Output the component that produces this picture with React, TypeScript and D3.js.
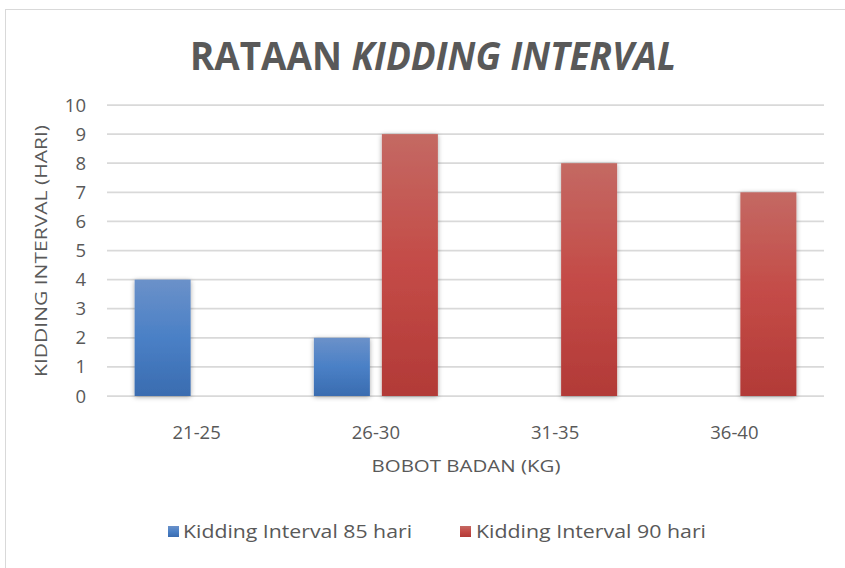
import React from "react";
import * as d3 from "d3";

const categories = ["21-25", "26-30", "31-35", "36-40"];
const series85 = [4, 2, 0, 0];
const series90 = [0, 9, 8, 7];
const seriesNames = ["Kidding Interval 85 hari", "Kidding Interval 90 hari"];
const yTicks = [0, 1, 2, 3, 4, 5, 6, 7, 8, 9, 10];

const W = 845;
const H = 568;
const FONT = "'Open Sans', 'Noto Sans', sans-serif";
const TXT = "#595959";

export default function App() {
  const x0 = d3.scaleBand<string>().domain(categories).range([107, 824]).paddingInner(0).paddingOuter(0);
  const y = d3.scaleLinear().domain([0, 10]).range([396, 105]);
  const barW = 56;
  const gap = 12;
  const series = [
    { name: seriesNames[0], values: series85, grad: "gBlue" },
    { name: seriesNames[1], values: series90, grad: "gRed" },
  ];
  return (
    <svg width={W} height={H} style={{ position: "absolute", left: 0, top: 0 }} fontFamily={FONT}>
      <defs>
        <linearGradient id="gBlue" x1="0" y1="0" x2="0" y2="1">
          <stop offset="0" stopColor="#6b91c9" />
          <stop offset="0.5" stopColor="#4a80c6" />
          <stop offset="1" stopColor="#3a6cb0" />
        </linearGradient>
        <linearGradient id="gRed" x1="0" y1="0" x2="0" y2="1">
          <stop offset="0" stopColor="#c46963" />
          <stop offset="0.5" stopColor="#c44b47" />
          <stop offset="1" stopColor="#b23a37" />
        </linearGradient>
        <filter id="shadow" x="-30%" y="-10%" width="160%" height="120%">
          <feDropShadow dx="0" dy="1" stdDeviation="2.5" floodColor="#000" floodOpacity="0.35" />
        </filter>
      </defs>
      <rect x={0} y={0} width={W} height={H} fill="#fff" />
      <rect x={5.5} y={9.5} width={W + 10} height={H + 10} fill="#fff" stroke="#d9d9d9" strokeWidth={1} />
      <text x={433} y={70} textAnchor="middle" fontSize={39} fontWeight="bold" fill={TXT} textLength={486} lengthAdjust="spacingAndGlyphs">
        <tspan>RATAAN </tspan>
        <tspan fontStyle="italic">KIDDING INTERVAL</tspan>
      </text>
      {yTicks.map((t) => (
        <g key={t}>
          <line x1={107} x2={824} y1={y(t)} y2={y(t)} stroke="#d9d9d9" strokeWidth={1.75} />
          <text x={86} y={y(t) + 6.5} textAnchor="end" fontSize={18.5} fill={TXT}>
            {t}
          </text>
        </g>
      ))}
      {series.map((s, si) =>
        s.values.map((v, i) => {
          const c = categories[i];
          const cx = x0(c)! + x0.bandwidth() / 2;
          const bx = si === 0 ? cx - gap / 2 - barW : cx + gap / 2;
          if (v === 0) return null;
          return (
            <rect key={s.name + c} x={bx} y={y(v)} width={barW} height={y(0) - y(v)} fill={`url(#${s.grad})`} filter="url(#shadow)" />
          );
        })
      )}
      {categories.map((c) => (
        <text key={c} x={x0(c)! + x0.bandwidth() / 2} y={439} textAnchor="middle" fontSize={18.5} fill={TXT}>
          {c}
        </text>
      ))}
      <text x={466} y={472} textAnchor="middle" fontSize={17} fill={TXT} textLength={189} lengthAdjust="spacingAndGlyphs">
        BOBOT BADAN (KG)
      </text>
      <text transform="translate(47,251) rotate(-90)" textAnchor="middle" fontSize={17} fill={TXT} textLength={252} lengthAdjust="spacingAndGlyphs">
        KIDDING INTERVAL (HARI)
      </text>
      <g>
        <rect x={168} y={526} width={11} height={11} fill="url(#gBlue)" />
        <text x={183} y={538} fontSize={18} fill={TXT} textLength={229} lengthAdjust="spacingAndGlyphs">
          {seriesNames[0]}
        </text>
        <rect x={460} y={526} width={11} height={11} fill="url(#gRed)" />
        <text x={476} y={538} fontSize={18} fill={TXT} textLength={230} lengthAdjust="spacingAndGlyphs">
          {seriesNames[1]}
        </text>
      </g>
    </svg>
  );
}
